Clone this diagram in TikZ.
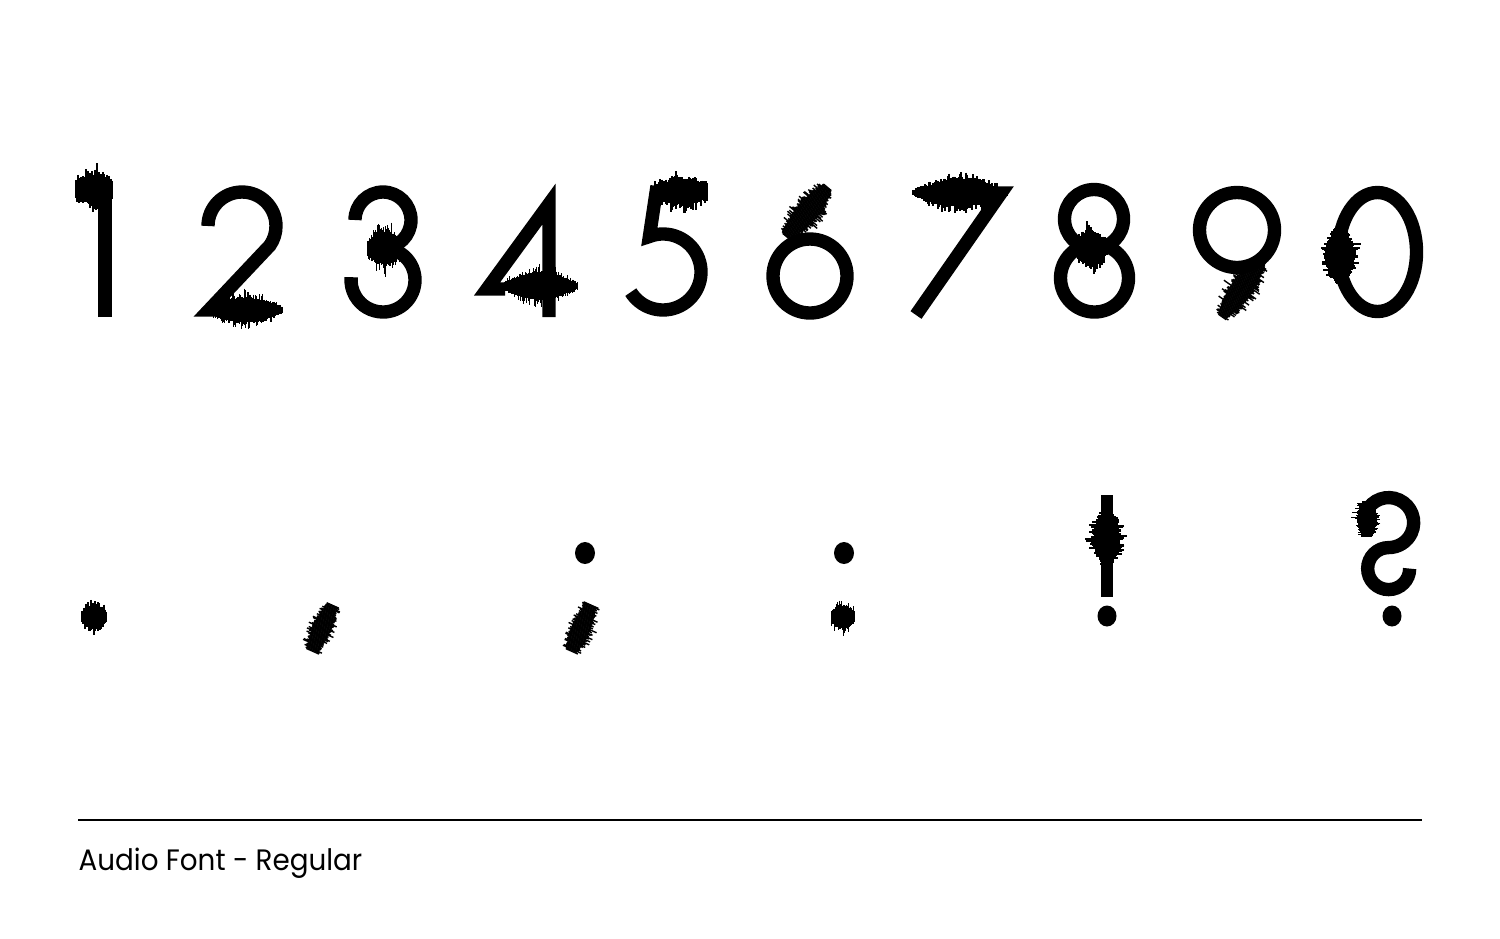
\documentclass[tikz,border=0pt]{standalone}
\usepackage{fontspec}
\setmainfont{Poppins}
\newcommand{\audiowave}[6]{%
  \begin{scope}[shift={(#1,#2)},rotate=#3]
    \foreach \i in {0,...,#4}{
      \pgfmathsetmacro{\env}{#5*(#6+(1-#6)*sin(180/#4*\i))}
      \pgfmathsetmacro{\up}{\env*(0.6+0.55*rnd*rnd)}
      \pgfmathsetmacro{\dn}{\env*(0.6+0.55*rnd*rnd)}
      \draw[wavebar] (\i-#4/2,-\up)--(\i-#4/2,\dn);
    }
  \end{scope}}
\begin{document}
\begin{tikzpicture}[x=0.01cm,y=0.01cm,yscale=-1,
  glyph/.style={line width=3.8pt,miter limit=20},
  wavebar/.style={line width=0.4pt},
  dotfill/.style={fill=black}]
\pgfmathsetseed{42}
\useasboundingbox (0,0) rectangle (1500,938);
% digits
\draw[glyph] (105,317)--(105,192);
\audiowave{94}{189}{0}{36}{23}{0.6}
\draw[glyph] (208,226) arc[start angle=180,end angle=395,radius=34]--(209,310)--(224,310);
\audiowave{245}{310}{0}{75}{20}{0.25}
\draw[glyph] (355,220) arc[start angle=180,end angle=450,radius=28];
\draw[glyph] (383,248) arc[start angle=270,end angle=545,radius=32];
\audiowave{385}{248}{0}{35}{27}{0.4}
\draw[glyph] (549,317)--(549,204)--(487,289)--(505,289);
\audiowave{540}{286}{0}{75}{22}{0.2}
\draw[glyph] (657,186)--(649.4,236.5) arc[start angle=249,end angle=508,radius=38];
\audiowave{681}{192}{0}{52}{20}{0.5}
\draw[glyph] (810,276) circle[radius=37];
\audiowave{807}{212}{-50}{64}{18}{0.45}
\draw[glyph] (985,193)--(1001,193)--(916,315);
\audiowave{960}{193}{0}{94}{21}{0.15}
\draw[glyph] (1094,219) circle[radius=29.5];
\draw[glyph] (1094.5,278) circle[radius=34];
\audiowave{1091}{248}{0}{32}{26}{0.4}
\draw[glyph] (1237,230) circle[radius=37.5];
\audiowave{1242}{288}{-55}{70}{18}{0.4}
\draw[glyph] (1377.5,252) ellipse[x radius=39,y radius=59.5];
\audiowave{1340}{255}{90}{56}{22}{0.3}
% punctuation
\audiowave{94}{617}{0}{24}{19}{0.45}
\audiowave{322}{628}{-66}{50}{15}{0.6}
\fill[dotfill] (585,553) ellipse[x radius=10,y radius=11];
\audiowave{581}{628}{-66}{50}{15}{0.6}
\fill[dotfill] (844,553) ellipse[x radius=10,y radius=11];
\audiowave{843}{617}{0}{23}{19}{0.45}
\draw[line width=3.4pt] (1107,495)--(1107,597);
\fill[dotfill] (1107,616) ellipse[x radius=9.5,y radius=10.5];
\audiowave{1107}{538}{90}{52}{21}{0.3}
\draw[glyph] (1366,512) arc[start angle=205,end angle=450,radius=25] arc[start angle=270,end angle=0,radius=21];
\audiowave{1367}{519}{90}{35}{16}{0.5}
\fill[dotfill] (1392,616) ellipse[x radius=9.5,y radius=10.5];
% footer
\draw[line width=0.6pt] (78,820)--(1422,820);
\node[anchor=base west,inner sep=0pt,font=\fontsize{8.4}{10}\selectfont] (caption) at (78,870) {\scalebox{0.94}[1]{Audio Font - Regular}};
\end{tikzpicture}
\end{document}
